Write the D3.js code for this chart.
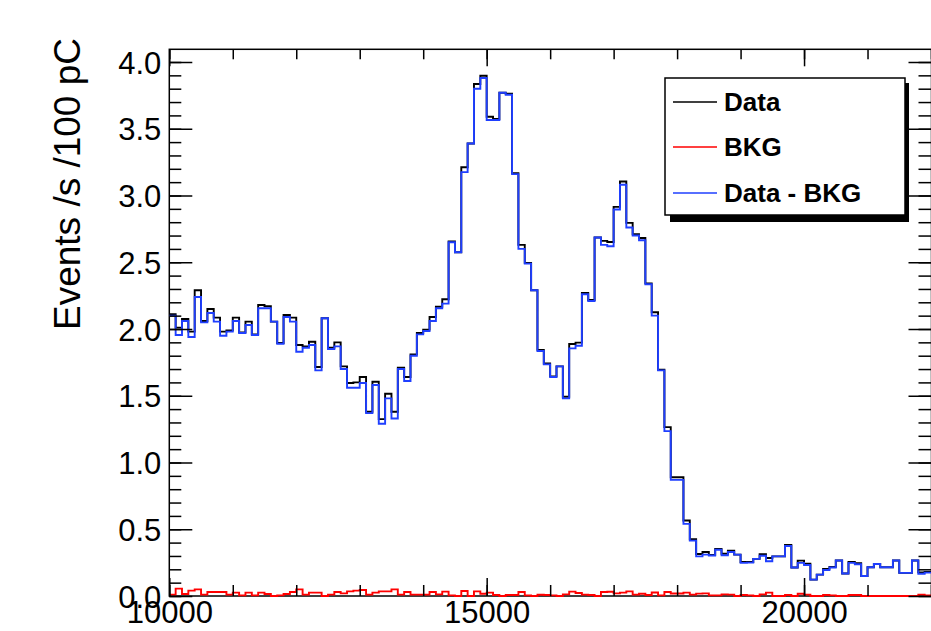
<!DOCTYPE html>
<html><head><meta charset="utf-8">
<script src="https://cdn.jsdelivr.net/npm/d3@7"></script>
<style>body{margin:0;background:#fff;} svg{display:block;}</style>
</head><body><svg id="c" width="931" height="631"></svg>
<script>
// ---------- data ----------
const binLow = 10000;
const binWidth = 100;
const dataValues = [
 2.11,2.01,2.075,1.98,2.29,2.06,2.15,2.085,1.98,1.99,
 2.085,1.975,2.055,1.96,2.18,2.17,2.055,1.895,2.105,2.085,
 1.88,1.87,1.905,1.715,2.08,1.86,1.90,1.72,1.595,1.60,
 1.64,1.38,1.605,1.325,1.515,1.38,1.71,1.64,1.81,1.97,
 1.995,2.09,2.167,2.223,2.655,2.575,3.212,3.39,3.835,3.897,
 3.59,3.573,3.77,3.762,3.167,2.63,2.495,2.29,1.844,1.742,
 1.645,1.72,1.492,1.888,1.898,2.27,2.217,2.685,2.66,2.652,
 2.915,3.105,2.795,2.71,2.682,2.342,2.126,1.695,1.265,0.889,
 0.889,0.565,0.425,0.315,0.33,0.308,0.352,0.317,0.34,0.31,
 0.255,0.255,0.278,0.314,0.285,0.297,0.297,0.383,0.213,0.265,
 0.242,0.123,0.16,0.203,0.218,0.266,0.168,0.255,0.245,0.15,
 0.215,0.24,0.215,0.215,0.266,0.173,0.173,0.266,0.177,0.18
];
const bkgValues = [
 0.01,0.055,0.015,0.04,0.05,0.01,0.03,0.03,0.03,0.01,
 0.025,0.005,0.025,0.005,0.025,0.015,0.0,0.005,0.015,0.03,
 0.05,0.01,0.025,0.025,0.0,0.01,0.03,0.02,0.035,0.04,
 0.045,0.01,0.025,0.035,0.035,0.05,0.01,0.03,0.01,0.01,
 0.01,0.03,0.012,0.033,0.005,0.0,0.037,0.0,0.035,0.017,
 0.025,0.008,0.0,0.007,0.007,0.03,0.005,0.0,0.009,0.007,
 0.005,0.0,0.012,0.033,0.023,0.01,0.007,0.0,0.03,0.032,
 0.02,0.025,0.035,0.01,0.017,0.007,0.026,0.005,0.03,0.019,
 0.019,0.025,0.01,0.018,0.02,0.005,0.005,0.012,0.01,0.0,
 0.007,0.005,0.0,0.012,0.025,0.0,0.0,0.008,0.0,0.017,
 0.01,0.0,0.0,0.008,0.005,0.0,0.0,0.007,0.007,0.0,
 0.0,0.0,0.0,0.0,0.0,0.0,0.0,0.0,0.01,0.005
];
const diffValues = [
 2.10,1.955,2.06,1.94,2.24,2.05,2.12,2.055,1.95,1.98,
 2.06,1.97,2.03,1.955,2.155,2.155,2.055,1.89,2.09,2.055,
 1.83,1.86,1.88,1.69,2.08,1.85,1.87,1.70,1.56,1.56,
 1.595,1.37,1.58,1.29,1.48,1.33,1.70,1.61,1.80,1.96,
 1.985,2.06,2.155,2.19,2.65,2.575,3.175,3.39,3.80,3.88,
 3.565,3.565,3.77,3.755,3.16,2.60,2.49,2.29,1.835,1.735,
 1.64,1.72,1.48,1.855,1.875,2.26,2.21,2.685,2.63,2.62,
 2.895,3.08,2.76,2.70,2.665,2.335,2.10,1.69,1.235,0.87,
 0.87,0.54,0.415,0.297,0.31,0.303,0.347,0.305,0.33,0.31,
 0.248,0.25,0.278,0.302,0.26,0.297,0.297,0.375,0.213,0.248,
 0.232,0.123,0.16,0.195,0.213,0.266,0.168,0.248,0.238,0.15,
 0.215,0.24,0.215,0.215,0.266,0.173,0.173,0.266,0.167,0.175
];
const seriesNames = ["Data", "BKG", "Data - BKG"];
const seriesColors = ["#000000", "#ff0000", "#1f3fff"];
const xMajorTicks = [10000, 15000, 20000];
const xTickLabels = ["10000", "15000", "20000"];
const yMajorTicks = [0, 0.5, 1.0, 1.5, 2.0, 2.5, 3.0, 3.5, 4.0];
const yTickLabels = ["0.0", "0.5", "1.0", "1.5", "2.0", "2.5", "3.0", "3.5", "4.0"];
const yTitle = "Events /s /100 pC";

// ---------- layout ----------
const L = 169.3, R = 931.5, T = 49.3, B = 596;
const x = d3.scaleLinear().domain([10000, 22000]).range([L, 931]);
const y = d3.scaleLinear().domain([0, 4]).range([B, 62]);

const svg = d3.select("#c");
const FONT = "'Liberation Sans', Arial, Helvetica, sans-serif";

svg.append("defs").append("clipPath").attr("id", "clip")
  .append("rect").attr("x", L).attr("y", T).attr("width", R - L).attr("height", B - T + 2);

// frame
svg.append("rect").attr("x", L).attr("y", T).attr("width", R - L).attr("height", B - T)
  .attr("fill", "none").attr("stroke", "#000").attr("stroke-width", 1.5);

// histograms
function stepPath(vals) {
  const pts = vals.map((v, i) => [x(binLow + i * binWidth), y(v)]);
  pts.push([x(binLow + vals.length * binWidth), y(vals[vals.length - 1])]);
  return d3.line().curve(d3.curveStepAfter)(pts);
}
const gH = svg.append("g").attr("clip-path", "url(#clip)");
[dataValues, bkgValues, diffValues].forEach((vals, k) => {
  gH.append("path").attr("d", stepPath(vals)).attr("fill", "none")
    .attr("stroke", seriesColors[k]).attr("stroke-width", 1.9);
});

// ticks via d3 axes
const xMinor = d3.range(10000, 22001, 1000);
const yMinor = d3.range(0, 41).map(d => d / 10);
function noLabels(g) { g.select(".domain").remove(); g.selectAll("text").remove(); g.selectAll("line").attr("stroke", "#000").attr("stroke-width", 1.5); }

svg.append("g").attr("transform", `translate(0,${B})`).call(d3.axisTop(x).tickValues(xMinor).tickSize(11)).call(noLabels);
svg.append("g").attr("transform", `translate(0,${B})`).call(d3.axisTop(x).tickValues(xMajorTicks).tickSize(18)).call(noLabels);
svg.append("g").attr("transform", `translate(0,${T})`).call(d3.axisBottom(x).tickValues(xMinor).tickSize(10)).call(noLabels);
svg.append("g").attr("transform", `translate(0,${T})`).call(d3.axisBottom(x).tickValues(xMajorTicks).tickSize(17)).call(noLabels);
svg.append("g").attr("transform", `translate(${L},0)`).call(d3.axisRight(y).tickValues(yMinor).tickSize(12)).call(noLabels);
svg.append("g").attr("transform", `translate(${L},0)`).call(d3.axisRight(y).tickValues(yMajorTicks).tickSize(23)).call(noLabels);
svg.append("g").attr("transform", `translate(${R},0)`).call(d3.axisLeft(y).tickValues(yMinor).tickSize(13)).call(noLabels);
svg.append("g").attr("transform", `translate(${R},0)`).call(d3.axisLeft(y).tickValues(yMajorTicks).tickSize(23)).call(noLabels);

// tick labels
const gxl = svg.append("g").attr("transform", `translate(0,${B})`)
  .call(d3.axisBottom(x).tickValues(xMajorTicks).tickSize(0).tickPadding(5).tickFormat((d, i) => xTickLabels[i]));
gxl.select(".domain").remove();
gxl.selectAll("text").attr("font-family", FONT).attr("font-size", 31).attr("fill", "#000");
const gyl = svg.append("g").attr("transform", `translate(${L},0)`)
  .call(d3.axisLeft(y).tickValues(yMajorTicks).tickSize(0).tickPadding(8).tickFormat((d, i) => yTickLabels[i]));
gyl.select(".domain").remove();
gyl.selectAll("text").attr("font-family", FONT).attr("font-size", 31).attr("fill", "#000").attr("dy", "0.36em");

// y title
svg.append("text").attr("transform", "translate(80,184) rotate(-90)")
  .attr("text-anchor", "middle").attr("font-family", FONT).attr("font-size", 37)
  .attr("fill", "#000").text(yTitle);

// legend
const lg = svg.append("g");
lg.append("rect").attr("x", 670).attr("y", 83).attr("width", 239).attr("height", 139).attr("fill", "#000");
lg.append("rect").attr("x", 665).attr("y", 78).attr("width", 240).attr("height", 137)
  .attr("fill", "#fff").attr("stroke", "#000").attr("stroke-width", 1.5);
const legY = [102, 147, 193];
seriesNames.forEach((n, k) => {
  lg.append("line").attr("x1", 673).attr("x2", 717).attr("y1", legY[k]).attr("y2", legY[k])
    .attr("stroke", seriesColors[k]).attr("stroke-width", 1.5);
  lg.append("text").attr("x", 724).attr("y", legY[k] + 9).attr("font-family", FONT)
    .attr("font-weight", "bold").attr("font-size", 26).attr("fill", "#000").text(n);
});
</script></body></html>
